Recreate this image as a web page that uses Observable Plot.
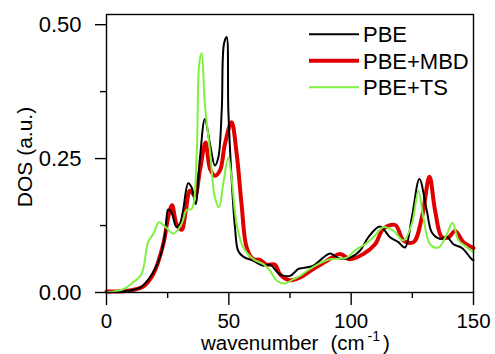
<!DOCTYPE html>
<html><head><meta charset="utf-8">
<script src="https://cdn.jsdelivr.net/npm/d3@7"></script>
<script src="https://cdn.jsdelivr.net/npm/@observablehq/plot@0.6"></script>
<style>body{margin:0;background:#fff}#chart{width:495px;height:354px}</style>
</head><body><div id="chart"></div>
<script>
// ---- data ----
const xTicks = [0, 50, 100, 150];
const xMinorTicks = [25, 75, 125];
const yTicks = [0, 0.25, 0.5];
const yMinorTicks = [0.125, 0.375];
const seriesNames = ["PBE", "PBE+MBD", "PBE+TS"];
const seriesColors = ["#000000", "#e00000", "#80f040"];
const seriesWidths = [2, 4, 2];

const pbeX = [0,5,10,13.7,17.7,21.8,24,25.2,26.5,28.6,30,31.3,33.4,34.8,36.4,38.2,40.2,42.3,44.3,45.7,47.1,48,49.1,49.8,51.1,52.5,53.8,55.9,60,64.1,66.8,70.9,75,78.4,80.4,84.5,91.4,94.8,99.5,103.6,107,111.8,115.9,119.3,122,124.8,127.9,130.9,133,136.4,139.1,141.8,145.3,149.3,150];
const pbeY = [0,0.002,0.004,0.009,0.028,0.065,0.11,0.155,0.15,0.122,0.128,0.153,0.204,0.196,0.165,0.252,0.324,0.277,0.237,0.252,0.34,0.464,0.477,0.34,0.215,0.122,0.078,0.067,0.059,0.05,0.052,0.034,0.031,0.044,0.046,0.05,0.073,0.064,0.065,0.078,0.103,0.123,0.103,0.094,0.084,0.14,0.212,0.153,0.112,0.1,0.104,0.09,0.083,0.062,0.06];

const mbdX = [0,8,12,15,19.1,23.2,25.2,26.8,28.6,30.7,32.4,34.1,36.1,38.2,40.5,42.3,44.3,46.4,48.4,51.1,53.2,55.2,57.3,60,62.7,65.5,68.9,70.9,75,79.1,84.5,90,95.5,99.5,105,109.8,113.2,118,121.4,125.5,128.9,132,134.3,137.1,139.8,142.5,145.9,150];
const mbdY = [0.002,0.003,0.006,0.011,0.034,0.09,0.14,0.163,0.128,0.117,0.153,0.19,0.181,0.228,0.28,0.231,0.218,0.228,0.277,0.318,0.259,0.165,0.084,0.062,0.061,0.052,0.052,0.034,0.023,0.028,0.044,0.059,0.072,0.062,0.072,0.09,0.119,0.126,0.097,0.094,0.14,0.216,0.153,0.103,0.103,0.115,0.094,0.083];

const tsX = [0,6.8,10.9,14.3,17,19.1,21.5,23.9,27.3,30.7,32.7,34.8,36.8,37.9,38.9,40.2,42.3,44.3,46,47.7,49.8,51.1,53.2,55.9,60,64.1,66.8,69.6,73,76.4,79.1,84.5,91.4,98.2,101.6,105.7,109.1,113.2,117.3,121.4,124.8,127.5,129.5,132.3,135.7,139.1,141.4,143.9,146.6,150];
const tsY = [0,0.006,0.019,0.034,0.094,0.109,0.131,0.123,0.11,0.128,0.154,0.156,0.252,0.427,0.447,0.352,0.265,0.178,0.159,0.203,0.252,0.215,0.128,0.084,0.062,0.053,0.041,0.022,0.017,0.025,0.031,0.048,0.062,0.065,0.079,0.09,0.103,0.122,0.115,0.097,0.128,0.19,0.14,0.09,0.084,0.109,0.13,0.097,0.087,0.075];

const rows = (xs, ys) => xs.map((x, i) => ({x, y: ys[i]}));
const pbe = rows(pbeX, pbeY), mbd = rows(mbdX, mbdY), ts = rows(tsX, tsY);

const font = "'Liberation Sans', Arial, Helvetica, sans-serif";
const curve = "catmull-rom";

const chart = Plot.plot({
  width: 495, height: 354,
  marginLeft: 106, marginRight: 22, marginTop: 14, marginBottom: 62,
  x: {domain: [0, 150]},
  y: {domain: [0, 0.519]},
  style: {fontFamily: font, fontSize: "22px", color: "#000", background: "#fff", overflow: "visible"},
  marks: [
    Plot.line(mbd, {x: "x", y: "y", stroke: seriesColors[1], strokeWidth: seriesWidths[1], curve}),
    Plot.line(pbe, {x: "x", y: "y", stroke: seriesColors[0], strokeWidth: seriesWidths[0], curve}),
    Plot.line(ts, {x: "x", y: "y", stroke: seriesColors[2], strokeWidth: seriesWidths[2], curve}),
    Plot.frame({stroke: "#000", strokeWidth: 1.4}),
    Plot.axisX({ticks: xTicks, tickSize: 13, tickPadding: 8, tickFormat: d => String(d), label: null, strokeWidth: 1.4, fontSize: 20.5}),
    Plot.axisX({ticks: xMinorTicks, tickSize: 6, tickFormat: () => "", label: null, strokeWidth: 1.4}),
    Plot.axisY({ticks: yTicks, tickSize: 11, tickPadding: 14, tickFormat: d3.format(".2f"), label: null, strokeWidth: 1.4}),
    Plot.axisY({ticks: yMinorTicks, tickSize: 6, tickFormat: () => "", label: null, strokeWidth: 1.4})
  ]
});
document.getElementById("chart").appendChild(chart);

const svg = d3.select(chart);
// axis titles
svg.append("text")
  .attr("transform", "translate(31.5,157) rotate(-90)")
  .attr("text-anchor", "middle")
  .attr("font-size", 21)
  .attr("fill", "#000")
  .text("DOS (a.u.)");

const xl = svg.append("text").attr("x", 201).attr("y", 350).attr("text-anchor", "start")
  .attr("font-size", 20.5).attr("fill", "#000");
xl.append("tspan").text("wavenumber");
xl.append("tspan").attr("dx", 12).text("(cm");
xl.append("tspan").attr("font-size", 14).attr("dy", -9).attr("dx", 3).text("-1");
xl.append("tspan").attr("dy", 9).attr("dx", 3).text(")");

// legend
const legendY = [34.3, 60.7, 87.3];
const lg = svg.append("g").attr("text-anchor", "start");
seriesNames.forEach((name, i) => {
  lg.append("line").attr("x1", 309).attr("x2", 359).attr("y1", legendY[i]).attr("y2", legendY[i])
    .attr("stroke", seriesColors[i]).attr("stroke-width", seriesWidths[i]);
  lg.append("text").attr("x", 363).attr("y", legendY[i]).attr("dy", "0.36em")
    .attr("text-anchor", "start")
    .attr("font-size", 22).attr("fill", "#000").text(name);
});
</script>
</body></html>
